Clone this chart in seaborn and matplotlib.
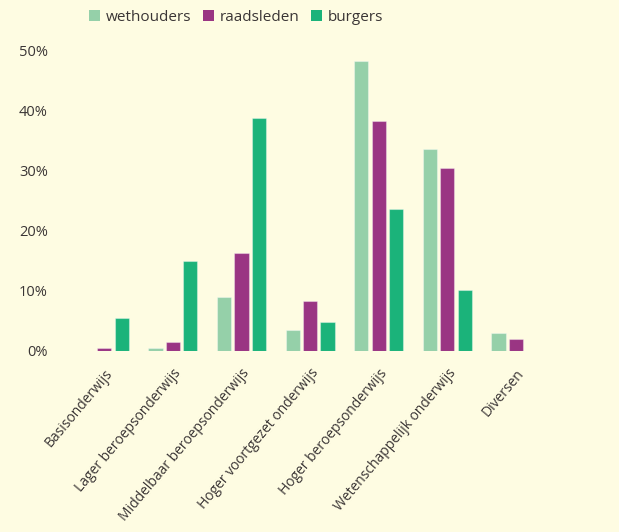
import seaborn as sns
import numpy as np
import pandas as pd
import matplotlib.pyplot as plt
from matplotlib.patches import Patch
from matplotlib.ticker import FuncFormatter

# opleidingsniveau per groep (aandeel)
categories = ["Basisonderwijs", "Lager beroepsonderwijs", "Middelbaar beroepsonderwijs",
              "Hoger voortgezet onderwijs", "Hoger beroepsonderwijs",
              "Wetenschappelijk onderwijs", "Diversen"]
wethouders = [0.0, 0.4, 8.9, 3.4, 48.3, 33.5, 3.0]
raadsleden = [0.5, 1.5, 16.2, 8.2, 38.3, 30.4, 1.9]
burgers = [5.5, 14.9, 38.8, 4.8, 23.6, 10.1, 0.0]
groups = ["wethouders", "raadsleden", "burgers"]
colors = ["#95d0a9", "#9a3583", "#1bb37a"]

df = pd.DataFrame({
    "categorie": categories * 3,
    "groep": np.repeat(groups, len(categories)),
    "aandeel": wethouders + raadsleden + burgers,
})

bg = "#fefce2"
txt = "#3a3535"
sns.set_style("white")
plt.rcParams["font.family"] = ["Open Sans", "DejaVu Sans"]

fig = plt.figure(figsize=(6.19, 5.32), dpi=100, facecolor=bg)
ax = fig.add_axes([0.113, 0.341, 0.776, 0.587], facecolor=bg)

sns.barplot(data=df, x="categorie", y="aandeel", hue="groep", hue_order=groups,
            palette=colors, saturation=1, width=0.76, gap=0.18, ax=ax, legend=False,
            edgecolor=(1, 1, 1, 0.35), linewidth=0.8)

ax.set_ylim(0, 52)
ax.set_xlim(-0.5, 6.5)
ax.set_yticks(range(0, 51, 10))
ax.yaxis.set_major_formatter(FuncFormatter(lambda v, p: f"{int(v)}%"))
ax.set_xlabel("")
ax.set_ylabel("")
sns.despine(ax=ax, left=True, bottom=True)
ax.tick_params(axis="y", length=0, pad=16, labelsize=10.5, labelcolor=txt)
ax.tick_params(axis="x", length=0, pad=11, labelsize=10, labelcolor=txt)
for lab in ax.get_xticklabels():
    lab.set_rotation(50)
    lab.set_ha("right")
    lab.set_rotation_mode("anchor")

handles = [Patch(facecolor=c, edgecolor="none") for c in colors]
fig.legend(handles, groups, loc="center", bbox_to_anchor=(0.382, 0.968), ncol=3,
           frameon=False, fontsize=11, handlelength=0.7, handleheight=0.7,
           handletextpad=0.4, columnspacing=0.75, labelcolor=txt)

fig.savefig("out.png", dpi=100, facecolor=bg)
